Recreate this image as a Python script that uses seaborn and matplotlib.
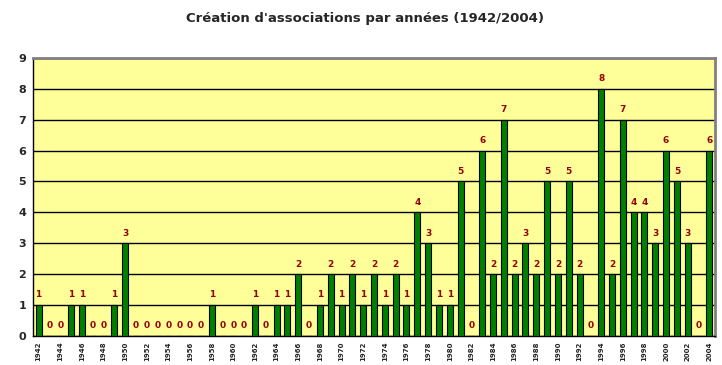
import numpy as np
import pandas as pd
import seaborn as sns
import matplotlib.pyplot as plt

# Number of associations created each year, 1942-2004
years = list(range(1942, 2005))
counts = [
    1, 0, 0, 1, 1, 0, 0, 1, 3, 0,   # 1942-1951
    0, 0, 0, 0, 0, 0, 1, 0, 0, 0,   # 1952-1961
    1, 0, 1, 1, 2, 0, 1, 2, 1, 2,   # 1962-1971
    1, 2, 1, 2, 1, 4, 3, 1, 1, 5,   # 1972-1981
    0, 6, 2, 7, 2, 3, 2, 5, 2, 5,   # 1982-1991
    2, 0, 8, 2, 7, 4, 4, 3, 6, 5,   # 1992-2001
    3, 0, 6,                        # 2002-2004
]
title = "Création d'associations par années (1942/2004)"

df = pd.DataFrame({"Annee": [str(y) for y in years], "Nombre": counts})

sns.set_style("white")
plt.rcParams["font.family"] = ["DejaVu Sans"]

fig = plt.figure(figsize=(7.22, 3.65), dpi=100)
ax = fig.add_axes([0.046, 0.080, 0.944, 0.761])
ax.set_facecolor("#FFFF99")

sns.barplot(data=df, x="Annee", y="Nombre", color="#008000", width=0.55,
            edgecolor="black", linewidth=0.8, saturation=1, ax=ax, zorder=3)

# value labels above bars
for i, v in enumerate(counts):
    ax.text(i, v + 0.18, str(v), ha="center", va="bottom",
            color="#990000", fontsize=6.5, fontweight="bold", zorder=4)

ax.set_ylim(0, 9)
ax.set_xlim(-0.5, len(years) - 0.5)
ax.set_yticks(range(0, 10))
ax.set_yticklabels([str(t) for t in range(0, 10)], fontsize=8, fontweight="bold")
ax.yaxis.grid(True, color="black", linewidth=1.0, zorder=1)
ax.set_axisbelow(True)

# ticks between categories, labels for every second year
ax.set_xticks(np.arange(-0.5, len(years), 1.0))
ax.set_xticklabels([])
ax.set_xticks(np.arange(0, len(years), 2), minor=True)
ax.set_xticklabels([str(y) for y in years[::2]], minor=True, rotation=90,
                   fontsize=5, fontweight="bold")
ax.tick_params(axis="x", which="major", length=3, width=0.8, color="black", direction="out")
ax.tick_params(axis="x", which="minor", length=0, pad=4)
ax.tick_params(axis="y", length=3, width=0.8, color="black", direction="out", pad=2)

ax.set_xlabel("")
ax.set_ylabel("")

for side in ["left", "bottom"]:
    ax.spines[side].set_color("black")
    ax.spines[side].set_linewidth(1.0)
for side in ["top", "right"]:
    ax.spines[side].set_visible(True)
    ax.spines[side].set_color("#808080")
    ax.spines[side].set_linewidth(2.0)

fig.text(0.505, 0.95, title, ha="center", va="center", fontsize=9.5, fontweight="bold")

fig.savefig("out.png", dpi=100)
plt.close(fig)
